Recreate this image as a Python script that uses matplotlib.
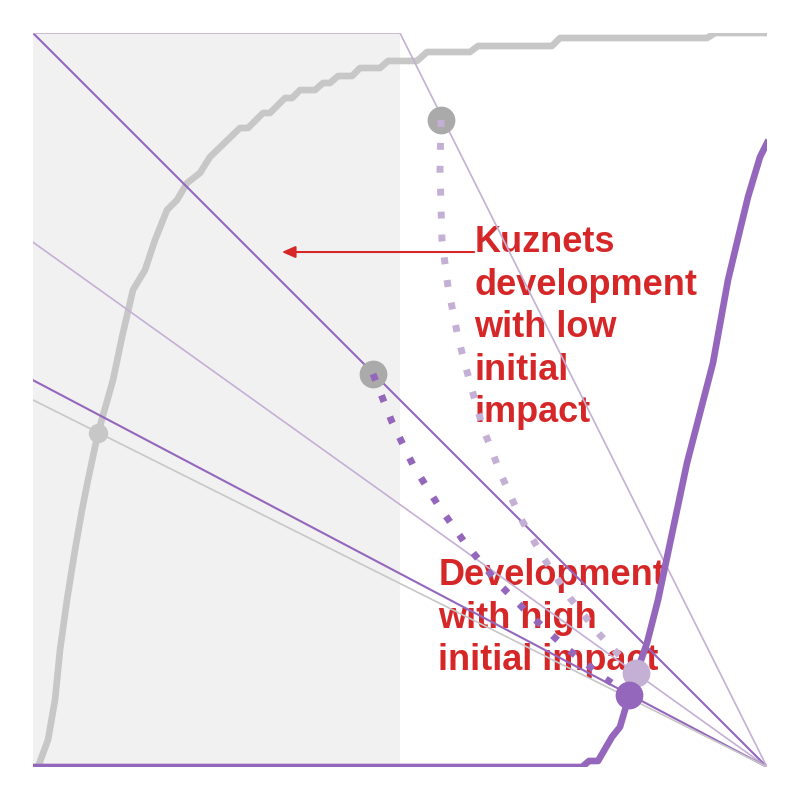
import matplotlib
matplotlib.use("Agg")
import matplotlib.pyplot as plt
import numpy as np

# ---- data (unit square coordinates) ----
shade_x = [0.0, 0.5]

# straight reference lines ending at (1, 0): intercepts at x = 0
ray_intercepts = [1.0, 0.715, 0.527, 0.5]
ray_colors = ["#9467bd", "#c5b0d5", "#9467bd", "#c7c7c7"]
ray_widths = [1.5, 1.2, 1.5, 1.2]

# bent light line along the top
top_x = [0.0, 0.5, 1.0]
top_y = [1.0, 1.0, 0.0]

# gray cumulative curve
gray_x = [0.0068, 0.0204, 0.0300, 0.0368, 0.0463, 0.0572, 0.0668, 0.0749, 0.0886,
          0.1090, 0.1213, 0.1362, 0.1526, 0.1662, 0.1826, 0.1962, 0.2098, 0.2275,
          0.2411, 0.2820, 0.2929, 0.3134, 0.3229, 0.3433, 0.3529, 0.3638, 0.3842,
          0.3951, 0.4046, 0.4155, 0.4346, 0.4455, 0.4728, 0.4837, 0.5232, 0.5368,
          0.5954, 0.6063, 0.7071, 0.7180, 0.9183, 0.9292, 1.0]
gray_y = [0.0, 0.0368, 0.0913, 0.1594, 0.2275, 0.2956, 0.3501, 0.3910, 0.4550,
          0.5272, 0.5858, 0.6499, 0.6771, 0.7180, 0.7589, 0.7725, 0.7956, 0.8093,
          0.8311, 0.8706, 0.8706, 0.8910, 0.8910, 0.9114, 0.9114, 0.9223, 0.9223,
          0.9319, 0.9319, 0.9414, 0.9414, 0.9523, 0.9523, 0.9619, 0.9619, 0.9741,
          0.9741, 0.9823, 0.9823, 0.9932, 0.9932, 1.0, 1.0]

# purple cumulative curve
purple_x = [0.0, 0.7480, 0.7575, 0.7698, 0.7888, 0.7997, 0.8065, 0.8120, 0.8270,
            0.8365, 0.8515, 0.8910, 0.9087, 0.9264, 0.9469, 0.9632, 0.9741,
            0.9905, 1.0]
purple_y = [0.0, 0.0, 0.0082, 0.0082, 0.0409, 0.0545, 0.0777, 0.0954, 0.1417,
            0.1689, 0.2275, 0.4142, 0.4823, 0.5504, 0.6635, 0.7316, 0.7766,
            0.8311, 0.8501]

# dotted development paths
low_x = [0.5559, 0.5545, 0.5572, 0.5654, 0.5790, 0.5954, 0.6131, 0.6362, 0.6635,
         0.6948, 0.7316, 0.7725, 0.8215]
low_y = [0.8815, 0.8134, 0.7180, 0.6540, 0.5858, 0.5232, 0.4619, 0.4019, 0.3406,
         0.2861, 0.2302, 0.1798, 0.1281]
high_x = [0.4632, 0.4891, 0.5177, 0.5518, 0.5886, 0.6322, 0.6771, 0.7248, 0.7766, 0.8120]
high_y = [0.5354, 0.4700, 0.4114, 0.3569, 0.3052, 0.2520, 0.2071, 0.1635, 0.1226, 0.0981]

# markers
start_x = [0.5559, 0.4632]
start_y = [0.8815, 0.5354]
small_x, small_y = 0.0886, 0.4550
end_light = (0.8215, 0.1281)
end_dark = (0.8120, 0.0981)

label_low = "Kuznets\ndevelopment\nwith low\ninitial\nimpact"
label_high = "Development\nwith high\ninitial impact"

RED = "#d62728"
DARK = "#9467bd"
LIGHT = "#c5b0d5"
GRAY = "#c7c7c7"

fig = plt.figure(figsize=(8, 8), dpi=100)
ax = fig.add_axes([33/800, 33/800, 734/800, 734/800])
ax.set_xlim(0, 1)
ax.set_ylim(0, 1)
ax.axis("off")

ax.axvspan(shade_x[0], shade_x[1], color="#f1f1f1", zorder=0, lw=0)

ax.plot(gray_x, gray_y, color=GRAY, lw=4.8, zorder=2)

xs = np.array([0.0, 1.0])
for b, c, w in zip(ray_intercepts, ray_colors, ray_widths):
    ax.plot(xs, b * (1 - xs), color=c, lw=w, zorder=3)
ax.plot(top_x, top_y, color=LIGHT, lw=1.2, zorder=3)

ax.plot(purple_x, purple_y, color=DARK, lw=4.8, zorder=4)

ax.plot(start_x, start_y, "o", ms=20, color="#aaaaaa", zorder=5, mec="none")
ax.plot([small_x], [small_y], "o", ms=14, color=GRAY, zorder=5, mec="none")
ax.plot([end_light[0]], [end_light[1]], "o", ms=20, color=LIGHT, zorder=5, mec="none")
ax.plot([end_dark[0]], [end_dark[1]], "o", ms=20, color=DARK, zorder=5, mec="none")

ax.plot(low_x, low_y, color=LIGHT, lw=5, dashes=(1, 2.3), dash_capstyle="butt", zorder=6)
ax.plot(high_x, high_y, color=DARK, lw=5, dashes=(1, 2.3), dash_capstyle="butt", zorder=6)

ax.text(0.601, 0.7384, label_low, color=RED, fontsize=26, fontweight="bold",
        family="Liberation Sans", ha="left", va="top", linespacing=1.28, zorder=1.5)
ax.text(0.552, 0.2847, label_high, color=RED, fontsize=26, fontweight="bold",
        family="Liberation Sans", ha="left", va="top", linespacing=1.28, zorder=1.5)

ax.annotate("", xy=(0.339, 0.7016), xytext=(0.601, 0.7016),
            arrowprops=dict(arrowstyle="-|>,head_length=0.8,head_width=0.35",
                            color=RED, lw=1.5, shrinkA=0, shrinkB=0), zorder=7)

fig.savefig("out.png", dpi=100)
